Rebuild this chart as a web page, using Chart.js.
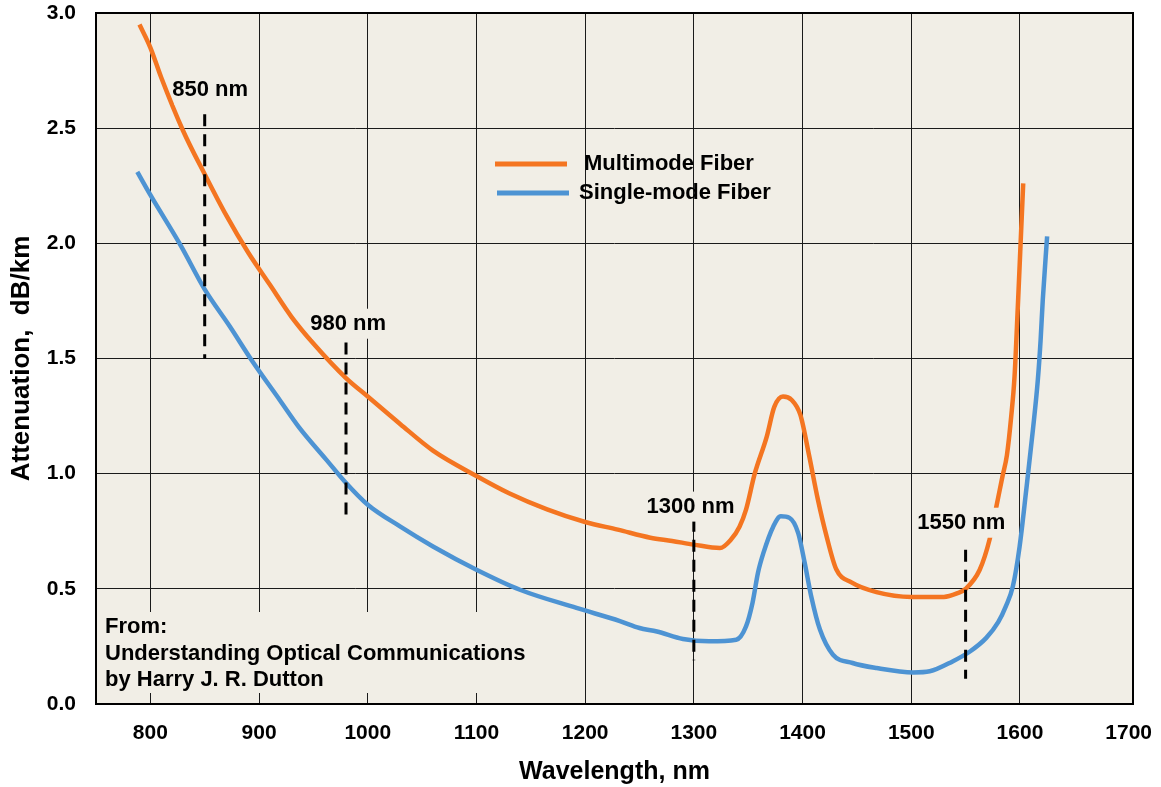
<!DOCTYPE html>
<html>
<head>
<meta charset="utf-8">
<script src="https://cdn.jsdelivr.net/npm/chart.js@4.4.0/dist/chart.umd.min.js"></script>
<style>
  html, body { margin: 0; padding: 0; background: #fff; }
  #wrap { width: 1161px; height: 787px; }
</style>
</head>
<body>
<div id="wrap"><canvas id="lossChart" width="1161" height="787"></canvas></div>
<script>
// Attenuation curves (wavelength in nm, loss in dB/km)
const multimodeWl = [790, 800, 810, 830, 850, 870, 890, 910, 930, 950, 980, 1000, 1030, 1060, 1100, 1130, 1165, 1200, 1230, 1260, 1280, 1300, 1324, 1334, 1342, 1348, 1356, 1367, 1374, 1382, 1390, 1398, 1406, 1414, 1422, 1431, 1445, 1468, 1500, 1530, 1542, 1550, 1563, 1572, 1578, 1584, 1588, 1592, 1595, 1598, 1600.5, 1603];
const multimodeDb = [2.95, 2.85, 2.72, 2.49, 2.30, 2.12, 1.96, 1.82, 1.68, 1.565, 1.415, 1.335, 1.215, 1.10, 0.99, 0.915, 0.845, 0.79, 0.757, 0.722, 0.708, 0.692, 0.677, 0.713, 0.77, 0.844, 1.00, 1.16, 1.29, 1.335, 1.32, 1.255, 1.08, 0.89, 0.73, 0.585, 0.528, 0.486, 0.465, 0.465, 0.48, 0.50, 0.583, 0.713, 0.85, 0.99, 1.08, 1.25, 1.42, 1.72, 1.99, 2.26];

const singlemodeWl = [788, 800, 828, 850, 873, 894, 919, 937, 962, 979, 1000, 1030, 1060, 1100, 1140, 1192, 1232, 1250, 1266, 1290, 1314, 1339, 1348, 1354, 1359, 1364, 1373, 1380, 1388, 1396, 1402, 1408, 1416, 1428, 1446, 1468, 1502, 1517, 1538, 1554, 1569, 1580, 1587, 1593.5, 1599.7, 1605.8, 1611.9, 1616.5, 1619, 1621, 1625];
const singlemodeDb = [2.31, 2.21, 1.99, 1.80, 1.64, 1.487, 1.32, 1.20, 1.06, 0.965, 0.865, 0.77, 0.684, 0.583, 0.496, 0.417, 0.36, 0.33, 0.315, 0.282, 0.272, 0.279, 0.337, 0.44, 0.57, 0.656, 0.77, 0.815, 0.808, 0.742, 0.612, 0.467, 0.323, 0.214, 0.178, 0.156, 0.137, 0.142, 0.185, 0.228, 0.287, 0.355, 0.424, 0.511, 0.684, 0.93, 1.19, 1.41, 1.58, 1.755, 2.03];

// transmission windows marked with dashed lines
const windowWl = [850, 980, 1300, 1550];
const windowTop = [2.56, 1.57, 0.80, 0.67];
const windowBottom = [1.50, 0.80, 0.19, 0.11];
const windowLabels = ['850 nm', '980 nm', '1300 nm', '1550 nm'];
const windowLabelWl = [855, 982, 1297, 1546];
const windowLabelDb = [2.667, 1.651, 0.857, 0.787];

const seriesNames = ['Multimode Fiber', 'Single-mode Fiber'];
const xTicks = [800, 900, 1000, 1100, 1200, 1300, 1400, 1500, 1600, 1700];
const yTicks = [0, 0.5, 1.0, 1.5, 2.0, 2.5, 3.0];
const sourceLines = ['From:', 'Understanding Optical Communications', 'by Harry J. R. Dutton'];

const ORANGE = 'rgb(244,117,33)';
const BLUE = 'rgb(77,147,211)';
const PLOT_BG = 'rgb(241,238,230)';
const FONT = "'Liberation Sans', Arial, sans-serif";

Chart.defaults.font.family = FONT;
Chart.defaults.color = '#000';

function toPoints(xs, ys) {
    return xs.map((x, i) => ({ x: x, y: ys[i] }));
}

const markerSets = windowWl.map((wl, i) => ({
    label: windowLabels[i],
    data: [{ x: wl, y: windowTop[i] }, { x: wl, y: windowBottom[i] }],
    borderColor: '#000',
    borderWidth: 3,
    borderDash: [12, 8],
    pointRadius: 0,
    order: 0
}));

// background, source note, window labels, legend and frame
const decorPlugin = {
    id: 'decor',
    beforeDraw(chart) {
        const { ctx, chartArea: a } = chart;
        ctx.save();
        ctx.fillStyle = PLOT_BG;
        ctx.fillRect(a.left, a.top, a.right - a.left, a.bottom - a.top);
        ctx.restore();
    },
    beforeDatasetsDraw(chart) {
        const { ctx, chartArea: a } = chart;
        ctx.save();
        ctx.fillStyle = PLOT_BG;
        ctx.fillRect(a.left + 3, a.bottom - 92, 432, 81);
        ctx.fillStyle = '#000';
        ctx.font = 'bold 22px ' + FONT;
        ctx.textBaseline = 'middle';
        ctx.textAlign = 'left';
        sourceLines.forEach((line, i) => {
            ctx.fillText(line, a.left + 9, a.bottom - 77 + i * 26.5);
        });
        ctx.restore();
    },
    afterDatasetsDraw(chart) {
        const { ctx, chartArea: a, scales } = chart;
        ctx.save();
        ctx.font = 'bold 22px ' + FONT;
        ctx.textBaseline = 'middle';
        ctx.textAlign = 'center';
        windowLabels.forEach((txt, i) => {
            const x = scales.x.getPixelForValue(windowLabelWl[i]);
            const y = scales.y.getPixelForValue(windowLabelDb[i]);
            const w = ctx.measureText(txt).width;
            ctx.fillStyle = PLOT_BG;
            ctx.fillRect(x - w / 2 + 2, y - 15, w - 4, 30);
            ctx.fillStyle = '#000';
            ctx.fillText(txt, x, y);
        });

        // legend
        const colors = [ORANGE, BLUE];
        const rows = [
            { x1: 495, x2: 567, y: 164, tx: 584 },
            { x1: 497, x2: 569, y: 193, tx: 579 }
        ];
        ctx.textAlign = 'left';
        rows.forEach((r, i) => {
            ctx.strokeStyle = colors[i];
            ctx.lineWidth = 5;
            ctx.beginPath();
            ctx.moveTo(r.x1, r.y);
            ctx.lineTo(r.x2, r.y);
            ctx.stroke();
            ctx.fillStyle = '#000';
            ctx.fillText(seriesNames[i], r.tx, r.y);
        });

        // frame
        ctx.strokeStyle = '#000';
        ctx.lineWidth = 2;
        ctx.strokeRect(a.left, a.top, a.right - a.left, a.bottom - a.top);
        ctx.restore();
    }
};

const ctx = document.getElementById('lossChart').getContext('2d');
const lossChart = new Chart(ctx, {
    type: 'line',
    data: {
        datasets: [
            ...markerSets,
            {
                label: seriesNames[0],
                data: toPoints(multimodeWl, multimodeDb),
                borderColor: ORANGE,
                borderWidth: 4.5,
                pointRadius: 0,
                cubicInterpolationMode: 'monotone',
                order: 1
            },
            {
                label: seriesNames[1],
                data: toPoints(singlemodeWl, singlemodeDb),
                borderColor: BLUE,
                borderWidth: 4.5,
                pointRadius: 0,
                cubicInterpolationMode: 'monotone',
                order: 1
            }
        ]
    },
    options: {
        responsive: false,
        animation: false,
        layout: { padding: { top: 13, right: 28, left: 0, bottom: 0 } },
        plugins: {
            legend: { display: false },
            tooltip: { enabled: false }
        },
        scales: {
            x: {
                type: 'linear',
                min: 750,
                max: 1704,
                afterBuildTicks: s => { s.ticks = xTicks.map(v => ({ value: v })); },
                afterFit: s => {
                    s.height = 83;
                    s.paddingLeft = 0;
                    s.paddingRight = 0;
                },
                ticks: {
                    font: { size: 21, weight: 'bold' },
                    padding: 17,
                    maxRotation: 0,
                    autoSkip: false,
                    callback: v => String(v)
                },
                grid: {
                    color: c => (c.tick && c.tick.value === 1700) ? 'rgba(0,0,0,0)' : '#1a1a1a',
                    lineWidth: 1,
                    drawTicks: false
                },
                border: { display: false },
                title: {
                    display: true,
                    text: 'Wavelength, nm',
                    font: { size: 25, weight: 'bold' },
                    padding: { top: 0, bottom: 0 }
                }
            },
            y: {
                min: 0,
                max: 3,
                afterBuildTicks: s => { s.ticks = yTicks.map(v => ({ value: v })); },
                afterFit: s => {
                    s.width = 96;
                    s.paddingTop = 0;
                    s.paddingBottom = 0;
                },
                ticks: {
                    font: { size: 21, weight: 'bold' },
                    padding: 20,
                    callback: v => v.toFixed(1)
                },
                grid: { color: '#1a1a1a', lineWidth: 1, drawTicks: false },
                border: { display: false },
                title: {
                    display: true,
                    text: 'Attenuation,  dB/km',
                    font: { size: 26, weight: 'bold' },
                    padding: { top: 6, bottom: 0 }
                }
            }
        }
    },
    plugins: [decorPlugin]
});
</script>
</body>
</html>
